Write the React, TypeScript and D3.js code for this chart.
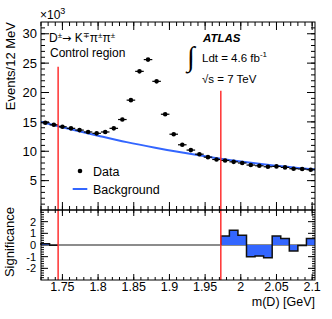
import * as d3 from "d3";
import { useEffect, useRef } from "react";

// bins: 12 MeV from 1.72 to 2.104 GeV
const binLow = 1.72;
const binWidth = 0.012;
const eventsK = [
  14.86, 14.5, 14.17, 13.9, 13.6, 13.28, 13.05, 13.28, 13.9, 15.4, 18.7, 23.6,
  25.6, 21.9, 16.3, 12.9, 11.1, 10.2, 9.5, 9.0, 8.6, 8.43, 8.2, 8.0, 7.65, 7.53,
  7.36, 7.42, 7.25, 7.03, 6.98, 6.86,
];
const bkgMass = [1.72, 1.76, 1.8, 1.84, 1.88, 1.92, 1.96, 2.0, 2.04, 2.08, 2.104];
const bkgEventsK = [15.0, 13.8, 12.65, 11.55, 10.6, 9.75, 8.95, 8.25, 7.65, 7.15, 6.88];
// null = signal region, not shown
const significance = [
  0.11, -0.03, null, null, null, null, null, null, null, null, null, null, null,
  null, null, null, null, null, null, null, null, 0.77, 1.26, 0.83, -1.0, -0.94,
  -1.1, 0.77, 0.55, -0.51, -0.05, 0.55,
];
const regionEdges = [1.744, 1.972];
const regionTopsK = [24.4, 20.3];
const xTickLabels = ["1.75", "1.8", "1.85", "1.9", "1.95", "2", "2.05", "2.1"];
const yTickLabels = ["5", "10", "15", "20", "25", "30"];
const sigTickLabels = ["-2", "-1", "0", "1", "2"];

const FONT = "'Liberation Sans', Arial, Helvetica, sans-serif";
const BLUE = "#3366ff";
const RED = "#ff3030";

type Bin = { e: number; v: number };

export default function App() {
  const ref = useRef<HTMLDivElement>(null);

  useEffect(() => {
    const width = 332,
      height = 319;
    const left = 41,
      right = 315,
      top = 22,
      mid = 210,
      bottom = 280;

    d3.select(ref.current).selectAll("*").remove();
    const svg = d3
      .select(ref.current)
      .append("svg")
      .attr("width", width)
      .attr("height", height)
      .style("position", "absolute")
      .style("left", "0px")
      .style("top", "0px")
      .attr("font-family", FONT);

    const x = d3
      .scaleLinear()
      .domain([binLow, binLow + eventsK.length * binWidth])
      .range([left, right]);
    const y = d3.scaleLinear().domain([0, 32]).range([mid, top]);
    const ys = d3.scaleLinear().domain([-3, 3]).range([bottom, mid]);

    const drawTicks = (
      vals: number[],
      fixed: number,
      len: number,
      scale: (v: number) => number,
      vertical: boolean
    ) => {
      svg
        .append("g")
        .selectAll("line")
        .data(vals)
        .join("line")
        .attr("x1", (d) => (vertical ? fixed : scale(d)))
        .attr("x2", (d) => (vertical ? fixed + len : scale(d)))
        .attr("y1", (d) => (vertical ? scale(d) : fixed))
        .attr("y2", (d) => (vertical ? scale(d) : fixed + len))
        .attr("stroke", "#000")
        .attr("stroke-width", 1);
    };

    const xMinor = d3.range(172, 211).map((d) => d / 100);
    const xMajor = d3.range(175, 211, 5).map((d) => d / 100);
    const yMinor = d3.range(1, 32);
    const yMajor = d3.range(5, 31, 5);
    const sMinor = d3.range(-14, 15).map((d) => d / 5);
    const sMajor = [-2, -1, 0, 1, 2];

    // main panel ticks
    drawTicks(xMinor, mid, -4, x, false);
    drawTicks(xMajor, mid, -8, x, false);
    drawTicks(xMinor, top, 4, x, false);
    drawTicks(xMajor, top, 8, x, false);
    drawTicks(yMinor, left, 4, y, true);
    drawTicks(yMajor, left, 8, y, true);
    drawTicks(yMinor, right, -4, y, true);
    drawTicks(yMajor, right, -8, y, true);

    // ratio panel ticks
    drawTicks(xMinor, bottom, -3, x, false);
    drawTicks(xMajor, bottom, -6, x, false);
    drawTicks(xMinor, mid, 3, x, false);
    drawTicks(xMajor, mid, 6, x, false);
    drawTicks(sMinor, left, 3, ys, true);
    drawTicks(sMajor, left, 7, ys, true);
    drawTicks(sMinor, right, -3, ys, true);
    drawTicks(sMajor, right, -7, ys, true);

    // background curve
    const line = d3
      .line<number>()
      .x((_, i) => x(bkgMass[i]))
      .y((d) => y(d))
      .curve(d3.curveMonotoneX);
    svg
      .append("path")
      .attr("d", line(bkgEventsK))
      .attr("fill", "none")
      .attr("stroke", BLUE)
      .attr("stroke-width", 2);

    // data points
    const pts = svg.append("g");
    pts
      .selectAll("line")
      .data(eventsK)
      .join("line")
      .attr("x1", (_, i) => x(binLow + i * binWidth))
      .attr("x2", (_, i) => x(binLow + (i + 1) * binWidth))
      .attr("y1", (d) => y(d))
      .attr("y2", (d) => y(d))
      .attr("stroke", "#000")
      .attr("stroke-width", 1.2);
    pts
      .selectAll("circle")
      .data(eventsK)
      .join("circle")
      .attr("cx", (_, i) => x(binLow + (i + 0.5) * binWidth))
      .attr("cy", (d) => y(d))
      .attr("r", 2.3)
      .attr("fill", "#000");

    // significance zero line
    svg
      .append("line")
      .attr("x1", left)
      .attr("x2", right)
      .attr("y1", ys(0))
      .attr("y2", ys(0))
      .attr("stroke", "#666")
      .attr("stroke-width", 1.3);

    // significance histogram, one piece per run of shown bins
    const runs: Bin[][] = [];
    let cur: Bin[] = [];
    significance.forEach((v, i) => {
      if (v === null) {
        if (cur.length) runs.push(cur);
        cur = [];
      } else {
        cur.push({ e: binLow + i * binWidth, v });
      }
    });
    if (cur.length) runs.push(cur);

    const area = d3
      .area<Bin>()
      .x((d) => x(d.e))
      .y0(ys(0))
      .y1((d) => ys(d.v))
      .curve(d3.curveStepAfter);
    const outline = d3
      .line<Bin>()
      .x((d) => x(d.e))
      .y((d) => ys(d.v))
      .curve(d3.curveStepAfter);

    runs.forEach((run) => {
      const last = run[run.length - 1];
      const closed = [...run, { e: last.e + binWidth, v: last.v }];
      svg.append("path").attr("d", area(closed)).attr("fill", BLUE);
      svg
        .append("path")
        .attr("d", outline([{ e: run[0].e, v: 0 }, ...closed]))
        .attr("fill", "none")
        .attr("stroke", "#111")
        .attr("stroke-width", 1.5);
    });

    // control region boundaries
    svg
      .append("g")
      .selectAll("line")
      .data(regionEdges)
      .join("line")
      .attr("x1", (d) => x(d))
      .attr("x2", (d) => x(d))
      .attr("y1", (_, i) => y(regionTopsK[i]))
      .attr("y2", bottom)
      .attr("stroke", RED)
      .attr("stroke-width", 1.5);

    // frames
    [
      [top, mid],
      [mid, bottom],
    ].forEach(([t, b]) => {
      svg
        .append("rect")
        .attr("x", left)
        .attr("y", t)
        .attr("width", right - left)
        .attr("height", b - t)
        .attr("fill", "none")
        .attr("stroke", "#000")
        .attr("stroke-width", 1);
    });

    // tick labels
    svg
      .append("g")
      .selectAll("text")
      .data(xTickLabels)
      .join("text")
      .attr("x", (d) => x(+d))
      .attr("y", 291)
      .attr("text-anchor", "middle")
      .attr("font-size", 12.5)
      .text((d) => d);
    svg
      .append("g")
      .selectAll("text")
      .data(yTickLabels)
      .join("text")
      .attr("x", 37)
      .attr("y", (d) => y(+d))
      .attr("dy", "0.36em")
      .attr("text-anchor", "end")
      .attr("font-size", 13)
      .text((d) => d);
    svg
      .append("g")
      .selectAll("text")
      .data(sigTickLabels)
      .join("text")
      .attr("x", 36)
      .attr("y", (d) => ys(+d))
      .attr("dy", "0.36em")
      .attr("text-anchor", "end")
      .attr("font-size", 11)
      .text((d) => d);

    // axis titles
    svg
      .append("text")
      .attr("transform", `translate(15,${top}) rotate(-90)`)
      .attr("text-anchor", "end")
      .attr("font-size", 13)
      .text("Events/12 MeV");
    svg
      .append("text")
      .attr("transform", `translate(14,207) rotate(-90)`)
      .attr("text-anchor", "end")
      .attr("font-size", 13)
      .text("Significance");
    svg
      .append("text")
      .attr("x", right)
      .attr("y", 306)
      .attr("text-anchor", "end")
      .attr("font-size", 12.5)
      .text("m(D) [GeV]");

    // x10^3
    const mult = svg.append("text").attr("x", 40).attr("y", 19).attr("font-size", 12);
    mult.append("tspan").text("\u00d710");
    mult.append("tspan").attr("dy", -5).attr("font-size", 9).text("3");

    // decay label
    const decay = svg.append("text").attr("x", 49).attr("y", 41.5).attr("font-size", 12);
    decay.append("tspan").text("D");
    decay.append("tspan").attr("dy", -4).attr("font-size", 8).text("\u00b1");
    decay
      .append("tspan")
      .attr("dy", 4)
      .attr("font-family", "'DejaVu Sans', sans-serif")
      .attr("font-size", 11)
      .text("\u2192 ");
    decay.append("tspan").text("K");
    decay.append("tspan").attr("dy", -4).attr("font-size", 8).text("\u2213");
    decay.append("tspan").attr("dy", 4).text("\u03c0");
    decay.append("tspan").attr("dy", -4).attr("font-size", 8).text("\u00b1");
    decay.append("tspan").attr("dy", 4).text("\u03c0");
    decay.append("tspan").attr("dy", -4).attr("font-size", 8).text("\u00b1");
    svg
      .append("text")
      .attr("x", 50)
      .attr("y", 56.5)
      .attr("font-size", 12)
      .text("Control region");

    // ATLAS label
    svg
      .append("text")
      .attr("x", 203)
      .attr("y", 42.3)
      .attr("font-size", 11.5)
      .attr("font-weight", "bold")
      .attr("font-style", "italic")
      .text("ATLAS");
    svg
      .append("text")
      .attr("x", 187)
      .attr("y", 66)
      .attr("font-size", 28)
      .attr("font-family", "'Liberation Serif', serif")
      .text("\u222b");
    const lumi = svg.append("text").attr("x", 202).attr("y", 61.5).attr("font-size", 11.5);
    lumi.append("tspan").text("Ldt = 4.6 fb");
    lumi.append("tspan").attr("dy", -5).attr("font-size", 8).text("-1");
    svg
      .append("text")
      .attr("x", 202)
      .attr("y", 82.5)
      .attr("font-size", 11.5)
      .text("\u221as = 7 TeV");

    // legend
    svg.append("circle").attr("cx", 80).attr("cy", 171).attr("r", 2.3).attr("fill", "#000");
    svg
      .append("text")
      .attr("x", 93)
      .attr("y", 171)
      .attr("dy", "0.36em")
      .attr("font-size", 12.5)
      .text("Data");
    svg
      .append("line")
      .attr("x1", 72.7)
      .attr("x2", 87.3)
      .attr("y1", 189)
      .attr("y2", 189)
      .attr("stroke", BLUE)
      .attr("stroke-width", 2);
    svg
      .append("text")
      .attr("x", 93)
      .attr("y", 189)
      .attr("dy", "0.36em")
      .attr("font-size", 12.5)
      .text("Background");
  }, []);

  return <div ref={ref}></div>;
}
